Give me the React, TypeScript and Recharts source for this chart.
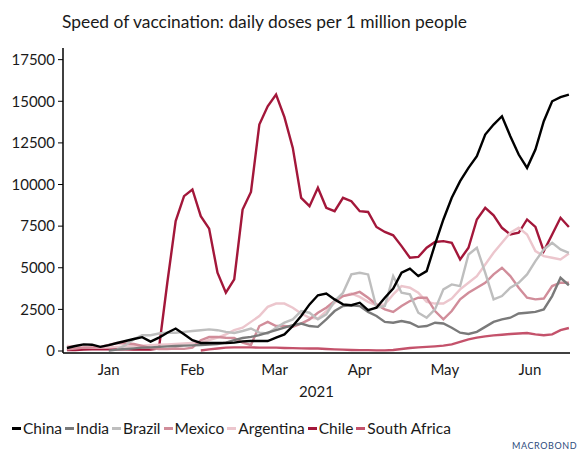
import { LineChart, Line, XAxis, YAxis } from "recharts";

// sample days, counted from 1 Jan 2021
const days = [
  0, 3, 6, 9, 12, 15, 18, 21, 24, 27, 30, 33, 36, 39, 42, 45, 48, 51, 54, 57,
  60, 63, 66, 69, 72, 75, 78, 81, 84, 87, 90, 93, 96, 99, 102, 105, 108, 111, 114, 117,
  120, 123, 126, 129, 132, 135, 138, 141, 144, 147, 150, 153, 156, 159, 162, 165, 168, 171, 174, 177,
  180,
];

// daily doses per 1 million people (7-day average)
const china = [
  180, 300, 400, 380, 250, 350, 480, 600, 720, 830, 560, 800, 1100, 1350, 1000, 650, 480, 480, 480, 480,
  500, 580, 600, 600, 600, 800, 1000, 1500, 2100, 2800, 3350, 3450, 3100, 2800, 2750, 2900, 2450, 2600, 3200, 3750,
  4700, 4950, 4500, 4800, 6400, 7900, 9200, 10200, 11000, 11700, 13000, 13600, 14100, 12900, 11800, 11000, 12100, 13800, 15000, 15250,
  15400,
];
const india = [
  null, null, null, null, null, 20, 80, 120, 160, 200, 220, 250, 280, 300, 320, 340, 360, 380, 420, 500,
  650, 780, 850, 950, 1100, 1250, 1400, 1550, 1650, 1500, 1450, 1900, 2400, 2700, 2750, 2700, 2350, 2100, 1750, 1700,
  1800, 1700, 1450, 1500, 1700, 1650, 1400, 1100, 1020, 1150, 1450, 1750, 1900, 2000, 2250, 2300, 2350, 2500, 3300, 4400,
  3950,
];
const brazil = [
  null, null, null, null, null, null, 100, 350, 700, 950, 950, 1050, 1100, 1100, 1150, 1200, 1250, 1300, 1250, 1150,
  1080, 1200, 1350, 1100, 1050, 1400, 1700, 1900, 2400, 2300, 1900, 2200, 3000, 3500, 4600, 4700, 4600, 2600, 2700, 4500,
  3500, 3400, 2300, 2000, 2500, 3700, 4000, 3900, 5800, 6200, 4700, 3100, 3300, 3800, 4100, 4600, 5400, 6100, 6500, 6100,
  5900,
];
const mexico = [
  100, 150, 200, 220, 240, 360, 480, 450, 420, 300, 180, 120, 120, 150, 130, 200, 650, 840, 840, 800,
  780, 500, 360, 1500, 1750, 1500, 1500, 1450, 1650, 1900, 2300, 2600, 3000, 3300, 3400, 3550, 3200, 2800, 2500, 2350,
  2700, 3000, 3200, 3200, 2400, 1900, 2400, 3100, 3500, 3800, 4100, 4600, 5000, 4500, 3800, 3200, 3100, 3150, 3900, 4100,
  4100,
];
const argentina = [
  300, 280, 250, 200, 200, 220, 250, 280, 300, 320, 350, 380, 400, 420, 450, 480, 500, 660, 800, 1000,
  1250, 1400, 1750, 2100, 2650, 2850, 2850, 2600, 2250, 2000, 1950, 2400, 2900, 3300, 3450, 3250, 2950, 2750, 2800, 3400,
  3900, 3800, 3500, 2950, 2850, 2850, 3150, 3700, 4100, 4500, 5200, 5900, 6500, 7100, 7400, 7000, 6000, 5700, 5600, 5500,
  5850,
];
const chile = [
  50, 60, 80, 100, 100, 100, 100, 100, 80, 80, 80, 150, 4100, 7800, 9300, 9700, 8100, 7350, 4700, 3500,
  4300, 8500, 9550, 13600, 14700, 15400, 14050, 12200, 9200, 8700, 9800, 8600, 8400, 9200, 9000, 8400, 8350, 7450, 7150, 6950,
  6300, 5600, 5650, 6200, 6550, 6600, 6500, 5500, 6200, 7900, 8600, 8150, 7400, 7000, 7100, 7900, 7450, 6000, 7000, 8000,
  7450,
];
const southAfrica = [
  null, null, null, null, null, null, null, null, null, null, null, null, null, null, null, null, 30, 100, 150, 200,
  220, 220, 220, 200, 200, 200, 180, 170, 160, 150, 150, 120, 100, 80, 60, 50, 50, 40, 40, 60,
  120, 180, 220, 250, 280, 320, 400, 550, 700, 800, 880, 940, 980, 1020, 1050, 1080, 1000, 950, 1000, 1250,
  1380,
];

const yTicks = [0, 2500, 5000, 7500, 10000, 12500, 15000, 17500];
const monthStarts = [0, 31, 59, 90, 120, 151];
const monthMids = [15, 45, 74.5, 105, 135.5, 166];
const monthNames = ["Jan", "Feb", "Mar", "Apr", "May", "Jun"];

const series = [
  { key: "China", values: china, color: "#000000" },
  { key: "India", values: india, color: "#7a7a7a" },
  { key: "Brazil", values: brazil, color: "#bebebe" },
  { key: "Mexico", values: mexico, color: "#d18d9a" },
  { key: "Argentina", values: argentina, color: "#ecc6cd" },
  { key: "Chile", values: chile, color: "#a3173a" },
  { key: "South Africa", values: southAfrica, color: "#c4526b" },
];

const rows = days.map((day, i) => {
  const row: Record<string, number | null> = { day };
  series.forEach((s) => (row[s.key] = s.values[i]));
  return row;
});

const FONT = "Lato, 'Open Sans', sans-serif";
const X_DOMAIN: [number, number] = [-1.4, 180.4];

export default function App() {
  return (
    <div
      style={{
        position: "absolute",
        left: 0,
        top: 0,
        width: 586,
        height: 453,
        background: "#fff",
        fontFamily: FONT,
        color: "#1a1a1a",
      }}
    >
      <div
        style={{
          position: "absolute",
          left: 62,
          top: 12,
          fontSize: 17.4,
          lineHeight: "20px",
          whiteSpace: "nowrap",
        }}
      >
        Speed of vaccination: daily doses per 1 million people
      </div>

      <LineChart
        width={586}
        height={453}
        data={rows}
        margin={{ top: 48, right: 16, bottom: 52, left: 0 }}
      >
        <YAxis
          domain={[-120, 18200]}
          ticks={yTicks}
          width={63}
          allowDataOverflow
          tickSize={5}
          tickMargin={3}
          axisLine={{ stroke: "#000", strokeWidth: 1.5 }}
          tickLine={{ stroke: "#000" }}
          tick={{ fill: "#1a1a1a", fontSize: 15, fontFamily: FONT }}
        />
        {/* month boundaries: tick marks only */}
        <XAxis
          dataKey="day"
          type="number"
          domain={X_DOMAIN}
          allowDataOverflow
          ticks={monthStarts}
          tick={false}
          tickSize={5}
          height={8}
          axisLine={{ stroke: "#000", strokeWidth: 1.5 }}
          tickLine={{ stroke: "#000" }}
        />
        {/* month names centred in each month */}
        <XAxis
          xAxisId="names"
          dataKey="day"
          type="number"
          domain={X_DOMAIN}
          allowDataOverflow
          ticks={monthMids}
          tickFormatter={(v: number) => monthNames[monthMids.indexOf(v)]}
          axisLine={false}
          tickLine={false}
          tickSize={0}
          tickMargin={3}
          height={40}
          tick={{ fill: "#1a1a1a", fontSize: 15, fontFamily: FONT }}
          label={{
            value: "2021",
            position: "insideBottom",
            offset: 4,
            fill: "#1a1a1a",
            fontSize: 15,
            fontFamily: FONT,
          }}
        />
        {[...series].reverse().map((s) => (
          <Line
            key={s.key}
            dataKey={s.key}
            type="linear"
            stroke={s.color}
            strokeWidth={2.4}
            dot={false}
            isAnimationActive={false}
          />
        ))}
      </LineChart>

      <div
        style={{
          position: "absolute",
          left: 12,
          top: 419,
          display: "flex",
          alignItems: "center",
          fontSize: 15.5,
          lineHeight: "18px",
          whiteSpace: "nowrap",
        }}
      >
        {series.map((s) => (
          <div key={s.key} style={{ display: "flex", alignItems: "center", marginRight: 3 }}>
            <span
              style={{
                display: "inline-block",
                width: 9,
                height: 3,
                background: s.color,
                marginRight: 2,
              }}
            />
            <span>{s.key}</span>
          </div>
        ))}
      </div>

      <div
        style={{
          position: "absolute",
          left: 512,
          top: 440,
          fontSize: 9,
          letterSpacing: 0.6,
          color: "#2d4b7c",
          lineHeight: "12px",
        }}
      >
        MACROBOND
      </div>
    </div>
  );
}
